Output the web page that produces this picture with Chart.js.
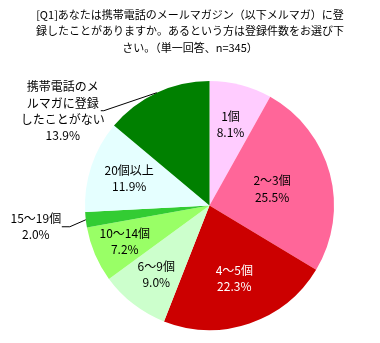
<!DOCTYPE html>
<html>
<head>
<meta charset="utf-8">
<script src="https://cdn.jsdelivr.net/npm/chart.js@4/dist/chart.umd.min.js"></script>
<style>
  html, body { margin: 0; padding: 0; background: #fff; }
  #wrap { width: 380px; height: 343px; position: relative; }
</style>
</head>
<body>
<div id="wrap"><canvas id="mailPie"></canvas></div>
<script>
const titleLines = [
  '[Q1]あなたは携帯電話のメールマガジン（以下メルマガ）に登',
  '録したことがありますか。あるという方は登録件数をお選び下',
  'さい。（単一回答、n=345）',
];
const categories = ['1個', '2〜3個', '4〜5個', '6〜9個', '10〜14個', '15〜19個', '20個以上', '携帯電話のメルマガに登録したことがない'];
const shares = [8.1, 25.5, 22.3, 9.0, 7.2, 2.0, 11.9, 13.9];

const sliceColors = ['#FFCCFF', '#FF6699', '#CC0000', '#CCFFCC', '#99FF66', '#33CC33', '#E5FFFF', '#008000'];
const labelColors = ['#000', '#000', '#fff', '#000', '#000', '#000', '#000', '#000'];
// inside labels: fraction of radius along the slice middle
const labelRadius = [0.67, 0.52, 0.62, 0.7, 0.74, null, 0.68, null];
// outside labels: offsets from the slice edge point (elbow, line end, text centre)
const outside = {
  5: { lines: ['15〜19個'], elbow: [-16, 7], end: [-24, 7], text: [-50, 7] },
  7: { lines: ['携帯電話のメ', 'ルマガに登録', 'したことがない'], elbow: [-53, 18], end: [-56, 18], text: [-94, 18.5] },
};

const titleFont = '11px "Noto Sans CJK JP", sans-serif';
const font = '12px "Noto Sans CJK JP", sans-serif';
const lineH = 16.3;

const labelPlugin = {
  id: 'pieLabels',
  afterDraw(chart) {
    const ctx = chart.ctx;
    ctx.save();
    ctx.font = titleFont;
    ctx.textAlign = 'center';
    ctx.textBaseline = 'middle';
    ctx.fillStyle = '#000';
    titleLines.forEach((t, i) => ctx.fillText(t, 190, 14.5 + i * 16.5));

    ctx.font = font;
    const meta = chart.getDatasetMeta(0);
    meta.data.forEach((arc, i) => {
      const p = arc.getProps(['x', 'y', 'startAngle', 'endAngle', 'outerRadius'], true);
      const mid = (p.startAngle + p.endAngle) / 2;
      const pct = shares[i].toFixed(1) + '%';
      let lines, cx, cy;
      if (outside[i]) {
        const o = outside[i];
        const ex = p.x + Math.cos(mid) * p.outerRadius;
        const ey = p.y + Math.sin(mid) * p.outerRadius;
        ctx.strokeStyle = '#000';
        ctx.lineWidth = 1;
        ctx.beginPath();
        ctx.moveTo(ex, ey);
        ctx.lineTo(ex + o.elbow[0], ey + o.elbow[1]);
        ctx.lineTo(ex + o.end[0], ey + o.end[1]);
        ctx.stroke();
        lines = o.lines.concat([pct]);
        cx = ex + o.text[0];
        cy = ey + o.text[1];
      } else {
        const r = p.outerRadius * labelRadius[i];
        lines = [categories[i], pct];
        cx = p.x + Math.cos(mid) * r;
        cy = p.y + Math.sin(mid) * r;
      }
      ctx.fillStyle = labelColors[i];
      const top = cy - (lines.length - 1) * lineH / 2;
      lines.forEach((t, k) => ctx.fillText(t, cx, top + k * lineH));
    });
    ctx.restore();
  },
};

new Chart(document.getElementById('mailPie'), {
  type: 'pie',
  data: {
    labels: categories,
    datasets: [{
      data: shares,
      backgroundColor: sliceColors,
      borderWidth: 0,
    }],
  },
  options: {
    responsive: true,
    maintainAspectRatio: false,
    animation: false,
    layout: { padding: { top: 81, bottom: 13, left: 85, right: 46 } },
    plugins: {
      legend: { display: false },
      title: { display: false },
      tooltip: { enabled: false },
    },
  },
  plugins: [labelPlugin],
});
</script>
</body>
</html>
